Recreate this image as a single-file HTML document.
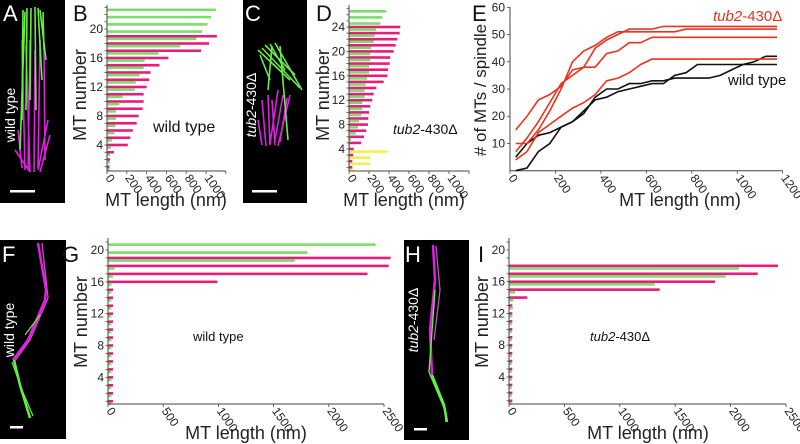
<!DOCTYPE html>
<html><head><meta charset="utf-8"><style>
html,body{margin:0;padding:0;background:#fff}
svg{display:block;font-family:"Liberation Sans",sans-serif}
</style></head><body>
<svg id="fig" width="800" height="444" viewBox="0 0 800 444" xmlns="http://www.w3.org/2000/svg">
<!-- Micrograph A -->
<g>
<rect x="0" y="0" width="65" height="203" fill="#000"/>
<g stroke="#e020e0" stroke-width="1.6" fill="none">
<path d="M22 40 L25 170"/><path d="M26 45 L30 172"/><path d="M30 40 L28 170"/><path d="M35 50 L34 172"/><path d="M40 40 L38 168"/><path d="M44 50 L45 160"/><path d="M18 130 L22 168"/><path d="M48 120 L38 170"/><path d="M15 150 L30 172"/><path d="M50 135 L40 172"/>
</g>
<g stroke="#66ee44" stroke-width="1.6" fill="none">
<path d="M23 10 L22 120"/><path d="M27 8 L26 110"/><path d="M31 8 L30 100"/><path d="M35 7 L36 110"/><path d="M38 8 L42 80"/><path d="M40 10 L46 60"/><path d="M43 12 L44 50"/><path d="M25 12 L20 150"/>
</g>
<text x="3" y="21" font-size="22" fill="#fff">A</text>
<text x="0" y="0" font-size="14" fill="#fff" transform="translate(15,115) rotate(-90)" text-anchor="middle">wild type</text>
<rect x="10" y="190" width="25" height="2.5" fill="#fff"/>
</g>
<!-- Micrograph C -->
<g>
<rect x="243" y="0" width="64" height="203" fill="#000"/>
<g stroke="#e020e0" stroke-width="1.6" fill="none">
<path d="M258 120 L262 145"/><path d="M262 100 L266 146"/><path d="M268 95 L270 145"/><path d="M272 100 L275 145"/><path d="M278 90 L270 144"/><path d="M283 95 L275 140"/><path d="M287 98 L280 142"/><path d="M290 95 L278 146"/>
</g>
<g stroke="#66ee44" stroke-width="1.6" fill="none">
<path d="M258 50 L290 80"/><path d="M262 48 L300 88"/><path d="M265 45 L295 75"/><path d="M270 44 L285 70"/><path d="M275 43 L302 90"/><path d="M280 46 L288 140"/><path d="M260 55 L270 80"/><path d="M272 46 L268 90"/>
</g>
<text x="245" y="21" font-size="22" fill="#fff">C</text>
<text x="0" y="0" font-size="14" fill="#fff" transform="translate(256,105) rotate(-90)" text-anchor="middle"><tspan font-style="italic">tub2</tspan>-430Δ</text>
<rect x="252" y="190" width="25" height="2.5" fill="#fff"/>
</g>
<!-- Micrograph F -->
<g>
<rect x="0" y="240" width="66" height="199" fill="#000"/>
<path d="M38 243 L46 290 L45 300 L28 340 L13 360" stroke="#e020e0" stroke-width="2.5" fill="none"/>
<path d="M42 243 L48 298 L30 340 L14 362" stroke="#d040d0" stroke-width="1.4" fill="none"/>
<path d="M14 360 L20 385 L30 418" stroke="#66ee44" stroke-width="2.5" fill="none"/>
<path d="M12 362 L22 390 L33 416 M25 335 L40 315" stroke="#66ee44" stroke-width="1.2" fill="none"/>
<text x="2" y="262" font-size="22" fill="#fff">F</text>
<text x="0" y="0" font-size="14" fill="#fff" transform="translate(14,330) rotate(-90)" text-anchor="middle">wild type</text>
<rect x="10" y="426" width="13" height="2.5" fill="#fff"/>
</g>
<!-- Micrograph H -->
<g>
<rect x="404" y="240" width="65" height="200" fill="#000"/>
<path d="M433 245 L435 280 L430 330 L432 375" stroke="#e020e0" stroke-width="2.5" fill="none"/>
<path d="M436 246 L440 290 L434 340" stroke="#c050c0" stroke-width="1.3" fill="none"/>
<path d="M435 290 L429 372 L445 410 L446 422" stroke="#66ee44" stroke-width="1.4" fill="none"/>
<path d="M432 375 L444 405 L447 422" stroke="#66ee44" stroke-width="2.5" fill="none"/>
<text x="405" y="262" font-size="22" fill="#fff">H</text>
<text x="0" y="0" font-size="14" fill="#fff" transform="translate(418,320) rotate(-90)" text-anchor="middle"><tspan font-style="italic">tub2</tspan>-430Δ</text>
<rect x="414" y="428" width="13" height="2.5" fill="#fff"/>
</g>
<text x="73" y="21" font-size="22" fill="#111">B</text>
<text x="316" y="21" font-size="22" fill="#111">D</text>
<text x="472" y="21" font-size="22" fill="#111">E</text>
<text x="62" y="262" font-size="22" fill="#111">G</text>
<text x="478" y="262" font-size="22" fill="#111">I</text>
</svg>
<script>
// Panel B (wild type), rows 1..23, nm
const bMagenta = [25,30,70,210,235,260,300,320,360,370,370,400,425,440,530,620,950,1030,1110,0,0,0,0];
const bGreen   = [25,30,30,40,50,75,85,90,90,125,160,280,290,330,370,380,520,740,900,960,1015,1050,1100];
const bXTicks = [0,200,400,600,800,1000];
const bYTicks = [4,8,12,16,20];
// Panel D (tub2-430Δ), rows 1..27
const dMagenta = [33,33,40,47,123,150,173,190,193,200,213,233,247,273,347,383,390,407,413,447,467,483,507,513,0,0,0];
const dGreen   = [0,0,0,0,13,23,67,90,100,123,133,133,157,157,167,180,200,200,213,213,223,247,257,273,313,333,373];
const dYellow  = [40,213,213,383,0,0,0,0,0,0,0,0,0,0,0,0,0,0,0,0,0,0,0,0,0,0,0];
const dXTicks = [0,200,400,600,800,1000];
const dYTicks = [4,8,12,16,20,24];
// Panel G (wild type), rows 1..21
const gMagenta = [45,45,45,45,45,45,45,45,45,45,45,45,45,45,45,990,2350,2542,2560,0,0];
const gGreen   = [30,30,30,30,30,30,30,30,30,30,30,30,30,30,30,30,45,60,1693,1805,2424];
const gXTicks = [0,500,1000,1500,2000,2500];
const gYTicks = [4,8,12,16,20];
// Panel I (tub2-430Δ), rows 1..18
const iMagenta = [30,30,30,30,30,30,30,30,30,30,30,30,30,165,1360,1859,2245,2428];
const iGreen   = [25,25,25,25,25,25,25,25,25,25,25,30,35,40,55,1315,1956,2076];
const iXTicks = [0,500,1000,1500,2000,2500];
const iYTicks = [4,8,12,16,20];
// Panel E cumulative curves
const eLengths = [25,75,125,175,225,275,325,375,425,475,525,575,625,675,725,775,825,875,925,975,1025,1075,1125,1175];
const eRed1 = [15,20,26,28,31,37,38,38,43,44,47,47,49,49,49,49,49,49,49,49,49,49,49,49];
const eRed2 = [10,10,15,22,30,40,44,46,49,51,51,51,51,51,51,52,52,52,52,52,52,52,52,52];
const eRed3 = [7,12,18,25,32,35,38,45,48,50,52,52,52,53,53,53,53,53,53,53,53,53,53,53];
const eRed4 = [4,7,14,17,20,23,25,28,33,34,36,39,41,41,41,41,41,41,41,41,41,41,41,41];
const eBlack1 = [5,10,13,14,16,18,21,27,30,30,32,32,33,33,34,34,34,34,35,37,39,40,42,42];
const eBlack2 = [0,1,7,10,16,18,22,26,27,29,30,31,32,32,35,36,39,39,39,39,39,39,39,39];
const eXTicks = [0,200,400,600,800,1000,1200];
const eYTicks = [10,20,30,40,50,60];

const NS = 'http://www.w3.org/2000/svg';
const svg = document.getElementById('fig');
function mk(tag, attrs, parent) {
  const e = document.createElementNS(NS, tag);
  for (const k in attrs) e.setAttribute(k, attrs[k]);
  (parent || svg).appendChild(e);
  return e;
}
function axisText(parent, x, y, txt, size, anchor, rot) {
  const t = mk('text', {x: x, y: y, 'font-size': size, fill: '#222', 'text-anchor': anchor}, parent);
  if (rot) t.setAttribute('transform', 'rotate(' + rot + ' ' + x + ' ' + y + ')');
  t.textContent = txt;
  return t;
}

function barPanel(name, cfg, mag, grn, yel) {
  const g = mk('g', {});
  
  
  const xs = v => cfg.x0 + v * cfg.k;
  const ys = r => cfg.yb - r * cfg.rp;
  const n = Math.max(mag.length, grn.length);
  for (let i = 0; i < n; i++) {
    const r = i + 1;
    if (mag[i] > 0) {
      const b = mk('rect', {x: cfg.x0, y: ys(r) - 1.3, width: xs(mag[i]) - cfg.x0, height: 2.6, fill: '#e41f7b'}, g);
      
      
    }
    if (grn[i] > 0) {
      const b = mk('rect', {x: cfg.x0, y: ys(r) + 1.3, width: xs(grn[i]) - cfg.x0, height: 2.6, fill: '#7ddc6c'}, g);
      
      
    }
    if (yel && yel[i] > 0) {
      const b = mk('rect', {x: cfg.x0, y: ys(r) + 1.3, width: xs(yel[i]) - cfg.x0, height: 2.6, fill: '#f4ef4a'}, g);
      
      
    }
  }
  const ax = mk('path', {d: 'M' + cfg.x0 + ' ' + cfg.top + ' V' + cfg.y0 + ' H' + xs(cfg.xmax), stroke: '#444', 'stroke-width': 1, fill: 'none'}, g);
  
  
  for (let r = 1; r <= cfg.rows; r++) {
    mk('line', {x1: cfg.x0 - 2.5, x2: cfg.x0, y1: ys(r), y2: ys(r), stroke: '#444', 'stroke-width': 0.8}, g);
  }
  cfg.yt.forEach(v => {
    const t = axisText(g, cfg.x0 - 4, ys(v) + 4, String(v), cfg.fs, 'end');
    
    
  });
  for (let v = 0; v <= cfg.xmax; v += cfg.xstep) {
    mk('line', {x1: xs(v), x2: xs(v), y1: cfg.y0, y2: cfg.y0 + 3, stroke: '#444', 'stroke-width': 0.8}, g);
  }
  cfg.xt.forEach(v => {
    const t = axisText(g, xs(v) - 2, cfg.y0 + 7, String(v), cfg.fs, 'start', 55);
    
    
  });
  const yt = axisText(g, cfg.ytx, cfg.yty, 'MT number', cfg.tfs, 'middle', -90);
  
  
  const xt = axisText(g, cfg.xtx, cfg.xty, 'MT length (nm)', cfg.tfs, 'middle');
  
  
  return g;
}
function inner(g, x, y, size, italicPart, rest) {
  const t = mk('text', {x: x, y: y, 'font-size': size, fill: '#111'}, g);
  
  
  if (italicPart) {
    const s = mk('tspan', {'font-style': 'italic'}, t); s.textContent = italicPart;
    const s2 = mk('tspan', {}, t); s2.textContent = rest;
  } else t.textContent = rest;
}

const gB = barPanel('panel-b-chart', {x0:107, y0:171, k:0.099, xmax:1200, xstep:200, yb:174, rp:7.25, rows:23, top:5, yt:bYTicks, xt:bXTicks, fs:12, tfs:18, ytx:86, yty:95, xtx:166, xty:206}, bMagenta, bGreen);
inner(gB, 153, 132, 16, '', 'wild type');
const gD = barPanel('panel-d-chart', {x0:349, y0:171, k:0.1, xmax:1200, xstep:200, yb:173.4, rp:6.1, rows:27, top:5, yt:dYTicks, xt:dXTicks, fs:12, tfs:18, ytx:329, yty:95, xtx:404, xty:206}, dMagenta, dGreen, dYellow);
inner(gD, 393, 134, 14, 'tub2', '-430Δ');
const gG = barPanel('panel-g-chart', {x0:108, y0:404, k:0.1104, xmax:2500, xstep:500, yb:409.2, rp:7.96, rows:21, top:238, yt:gYTicks, xt:gXTicks, fs:12, tfs:18, ytx:87, yty:322, xtx:246, xty:439}, gMagenta, gGreen);
inner(gG, 193, 341, 13, '', 'wild type');
const gI = barPanel('panel-i-chart', {x0:509, y0:404, k:0.1108, xmax:2500, xstep:500, yb:408.75, rp:7.94, rows:21, top:238, yt:iYTicks, xt:iXTicks, fs:12, tfs:18, ytx:488, yty:322, xtx:648, xty:439}, iMagenta, iGreen);
inner(gI, 590, 341, 13, 'tub2', '-430Δ');

// Panel E
(function(){
  const g = mk('g', {});
  
  
  const xs = v => 510 + v * 0.2272;
  const ys = v => 170.7 - v * 2.723;
  const ax = mk('path', {d: 'M510 7 V170.7 H' + xs(1200), stroke: '#444', 'stroke-width': 1, fill: 'none'}, g);
  
  
  eYTicks.forEach(v => {
    mk('line', {x1: 507, x2: 510, y1: ys(v), y2: ys(v), stroke: '#444', 'stroke-width': 0.8}, g);
    const t = axisText(g, 505, ys(v) + 4, String(v), 12, 'end');
    
    
  });
  eXTicks.forEach(v => {
    mk('line', {x1: xs(v), x2: xs(v), y1: 170.7, y2: 173.7, stroke: '#444', 'stroke-width': 0.8}, g);
    const t = axisText(g, xs(v) - 2, 178, String(v), 12, 'start', 55);
    
    
  });
  function line(arr, color, nm) {
    const d = arr.map((v, i) => (i ? 'L' : 'M') + xs(eLengths[i]).toFixed(1) + ' ' + ys(v).toFixed(1)).join(' ');
    const p = mk('path', {d: d, stroke: color, 'stroke-width': 1.6, fill: 'none'}, g);
    
    
  }
  line(eBlack1, '#111', 'wild-type-curve-1');
  line(eBlack2, '#111', 'wild-type-curve-2');
  line(eRed1, '#e8341f', 'tub2-curve-1');
  line(eRed2, '#e8341f', 'tub2-curve-2');
  line(eRed3, '#e8341f', 'tub2-curve-3');
  line(eRed4, '#e8341f', 'tub2-curve-4');
  const yt = axisText(g, 486, 90, '# of MTs / spindle', 17, 'middle', -90);
  
  
  const xt = axisText(g, 680, 206, 'MT length (nm)', 18, 'middle');
  
  
  const r = mk('text', {x: 713, y: 21, 'font-size': 15, fill: '#e8341f'}, g);
  
  
  const s1 = mk('tspan', {'font-style': 'italic'}, r); s1.textContent = 'tub2';
  const s2 = mk('tspan', {}, r); s2.textContent = '-430Δ';
  const w = mk('text', {x: 728, y: 85, 'font-size': 15, fill: '#111'}, g);
  
  
  w.textContent = 'wild type';
})();
</script>
</body></html>
